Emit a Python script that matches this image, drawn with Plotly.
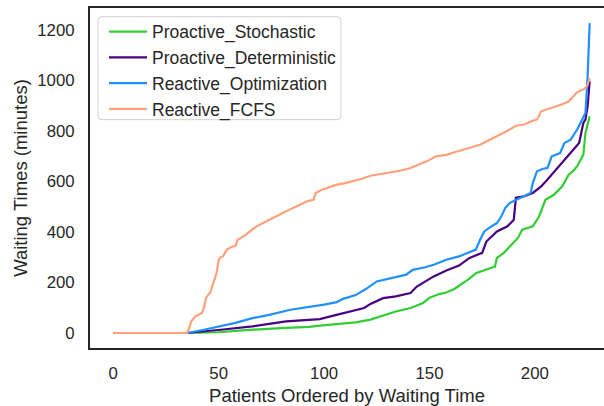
import plotly.graph_objects as go

# Proactive_Stochastic (green)
stoch_x = [0, 35, 50, 66, 82, 93, 98, 108, 115, 122, 128, 134, 141, 147, 150, 155, 158, 162, 166, 169, 172, 176, 179, 181, 182, 185, 188, 192, 194, 197, 199, 202, 204, 205, 209, 213, 216, 218, 220, 222, 223, 224, 225, 226]
stoch_y = [0, 0, 3, 13, 20, 24, 29, 35, 42, 53, 70, 85, 99, 119, 140, 155, 160, 175, 198, 215, 237, 250, 257, 262, 297, 315, 343, 376, 409, 418, 422, 461, 500, 527, 547, 580, 626, 640, 659, 690, 705, 791, 830, 857]

# Proactive_Deterministic (indigo)
det_x = [0, 35, 51, 66, 82, 98, 103, 112, 119, 122, 128, 134, 141, 144, 152, 158, 164, 169, 175, 177, 182, 187, 190, 191, 195, 199, 203, 206, 210, 214, 218, 221, 223, 224, 225, 226]
det_y = [0, 0, 13, 26, 46, 55, 66, 85, 99, 115, 138, 145, 158, 184, 224, 247, 267, 297, 317, 362, 402, 422, 448, 535, 541, 554, 580, 607, 646, 686, 725, 752, 831, 844, 897, 996]

# Reactive_Optimization (dodgerblue)
opt_x = [0, 35, 43, 51, 58, 66, 74, 84, 93, 100, 106, 109, 115, 120, 125, 133, 139, 142, 148, 152, 158, 164, 168, 172, 174, 176, 179, 182, 184, 186, 188, 192, 195, 198, 199, 201, 204, 206, 208, 210, 212, 214, 217, 220, 222, 223, 224, 225, 226]
opt_y = [0, 0, 13, 26, 40, 59, 72, 92, 102, 112, 122, 135, 150, 175, 204, 218, 231, 250, 260, 270, 290, 303, 315, 330, 369, 402, 420, 435, 460, 495, 514, 530, 541, 554, 593, 640, 650, 653, 699, 705, 712, 752, 765, 804, 837, 851, 870, 1010, 1226]

# Reactive_FCFS (lightsalmon)
fcfs_x = [0, 35, 36, 37, 39, 42, 43, 44, 46, 47, 49, 50, 51, 52, 54, 56, 58, 59, 61, 63, 66, 68, 71, 74, 77, 79, 82, 85, 88, 92, 95, 96, 99, 102, 106, 110, 114, 118, 122, 126, 131, 136, 141, 145, 149, 153, 158, 163, 166, 170, 174, 177, 180, 183, 187, 191, 195, 199, 201, 203, 206, 210, 213, 216, 218, 220, 222, 224, 225, 226]
fcfs_y = [0, 0, 20, 46, 66, 79, 100, 140, 160, 185, 237, 290, 300, 303, 330, 340, 345, 369, 380, 389, 410, 422, 435, 448, 460, 468, 480, 494, 505, 521, 527, 554, 567, 575, 587, 593, 600, 610, 622, 628, 633, 642, 653, 666, 680, 699, 705, 718, 725, 735, 745, 758, 770, 785, 800, 820, 825, 840, 844, 877, 885, 894, 905, 916, 936, 952, 960, 969, 982, 1009]

x_ticks = [0, 50, 100, 150, 200]
y_ticks = [0, 200, 400, 600, 800, 1000, 1200]

series = [
    ("Proactive_Stochastic", stoch_x, stoch_y, "#32CD32"),
    ("Proactive_Deterministic", det_x, det_y, "#4B0082"),
    ("Reactive_Optimization", opt_x, opt_y, "#1E90FF"),
    ("Reactive_FCFS", fcfs_x, fcfs_y, "#FFA07A"),
]

FONT = "Liberation Sans, Arial, sans-serif"
TXT = "#262626"

# plot area in pixels
PL, PR, PT, PB = 90, 604, 8.3, 348.3
PW, PH = PR - PL, PB - PT

def px2paper(px, py):
    return (px - PL) / PW, 1 - (py - PT) / PH

# rounded legend frame
bx0, by0, bx1, by1, r = 98, 17, 341, 120, 4
x0, y0 = px2paper(bx0, by0)
x1, y1 = px2paper(bx1, by1)
rx, ry = r / PW, r / PH
path = (f"M {x0+rx},{y0} L {x1-rx},{y0} Q {x1},{y0} {x1},{y0-ry} "
        f"L {x1},{y1+ry} Q {x1},{y1} {x1-rx},{y1} "
        f"L {x0+rx},{y1} Q {x0},{y1} {x0},{y1+ry} "
        f"L {x0},{y0-ry} Q {x0},{y0} {x0+rx},{y0} Z")

fig = go.Figure()
for name, xs, ys, col in series:
    fig.add_trace(go.Scatter(x=xs, y=ys, mode="lines", name=name,
                             line=dict(color=col, width=2.2)))

fig.add_shape(type="path", path=path, xref="paper", yref="paper",
              line=dict(color="#d0d0d0", width=1), fillcolor="white", layer="above")

lx, ly = px2paper(104, 14)
fig.update_layout(
    width=604, height=406,
    margin=dict(l=90, r=0, t=8, b=58),
    paper_bgcolor="white", plot_bgcolor="white",
    font=dict(family=FONT, size=17, color=TXT),
    showlegend=True,
    legend=dict(x=lx, y=ly, xanchor="left", yanchor="top",
                bgcolor="rgba(0,0,0,0)", borderwidth=0,
                font=dict(family=FONT, size=17.5, color=TXT),
                itemwidth=38),
)
fig.update_xaxes(
    range=[-11.05, 232.8], tickvals=x_ticks, showgrid=False, zeroline=False,
    showline=True, linecolor=TXT, linewidth=2, mirror=True,
    ticks="outside", ticklen=9, tickcolor="rgba(0,0,0,0)",
    tickfont=dict(size=16.8, color=TXT),
    title=dict(text="Patients Ordered by Waiting Time", font=dict(size=18.5, color=TXT), standoff=7),
)
fig.update_yaxes(
    range=[-59.3, 1285.8], tickvals=y_ticks, showgrid=False, zeroline=False,
    showline=True, linecolor=TXT, linewidth=2, mirror=False,
    ticks="outside", ticklen=10, tickcolor="rgba(0,0,0,0)",
    tickfont=dict(size=16.8, color=TXT),
    title=dict(text="Waiting Times (minutes)", font=dict(size=18.5, color=TXT), standoff=5),
)

fig.write_html("out.html")
